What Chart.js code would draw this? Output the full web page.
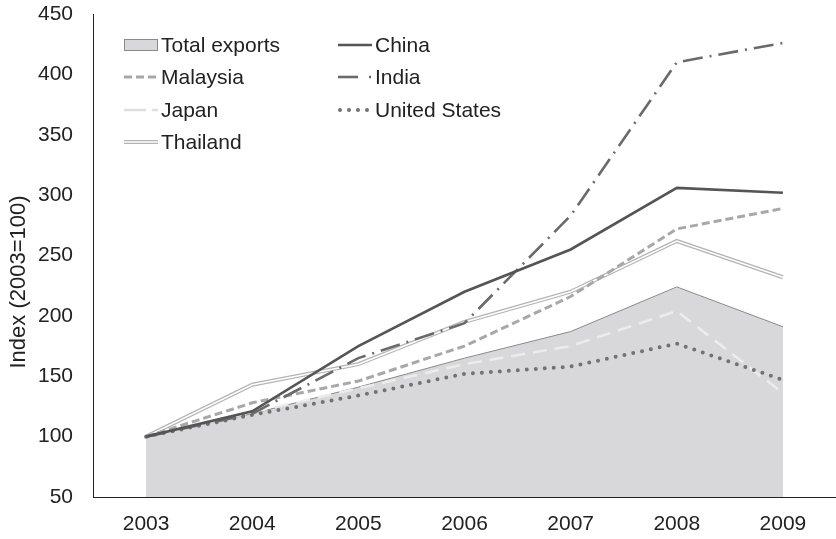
<!DOCTYPE html>
<html>
<head>
<meta charset="utf-8">
<script src="https://cdn.jsdelivr.net/npm/chart.js@4/dist/chart.umd.min.js"></script>
<style>
html,body{margin:0;padding:0;background:#fff;}
#wrap{width:836px;height:539px;position:relative;}
</style>
</head>
<body>
<div id="wrap"><canvas id="c" width="836" height="539"></canvas></div>
<script>
const years = ['2003','2004','2005','2006','2007','2008','2009'];
const totalExports = [100, 119, 141, 165, 187, 224, 191];
const china = [100, 121, 175, 220, 255, 306, 302];
const malaysia = [100, 128, 146, 175, 216, 272, 289];
const india = [100, 119, 165, 194, 283, 410, 426];
const japan = [100, 120, 140, 160, 175, 204, 136];
const unitedStates = [100, 118, 134, 152, 158, 177, 147];
const thailand = [100, 143, 160, 195, 220, 262, 232];
const yTicks = [50, 100, 150, 200, 250, 300, 350, 400, 450];
const yTitle = 'Index (2003=100)';

const FONT = "'Liberation Sans', Arial, sans-serif";

const datasets = [
  {label:'Total exports', data: totalExports, fill:'start', backgroundColor:'#d8d8da', borderColor:'#8a8a8a', borderWidth:1, order:100, legend:{col:0,row:0,type:'box'}},
  {label:'Japan', data: japan, borderColor:'#ececec', borderWidth:2.5, borderDash:[14,8], fill:false, order:7, legend:{col:0,row:2}},
  {label:'Thailand', data: thailand, borderColor:'#b4b4b4', borderWidth:4, fill:false, order:6, legend:{col:0,row:3,type:'double'}},
  {label:'_thai_inner', data: thailand, borderColor:'#ffffff', borderWidth:1.6, fill:false, order:5},
  {label:'Malaysia', data: malaysia, borderColor:'#a8a8a8', borderWidth:3, borderDash:[8,4], fill:false, order:4, legend:{col:0,row:1}},
  {label:'United States', data: unitedStates, borderColor:'#727272', borderWidth:4, borderDash:[0,9], borderCapStyle:'round', fill:false, order:3, legend:{col:1,row:2}},
  {label:'India', data: india, borderColor:'#6a6a6a', borderWidth:2.6, borderDash:[20,7,2,7], fill:false, order:2, legend:{col:1,row:1,type:'dashdot'}},
  {label:'China', data: china, borderColor:'#555555', borderWidth:2.6, fill:false, order:1, legend:{col:1,row:0}}
];

const legendPlugin = {
  id:'customLegend',
  afterDraw(chart){
    const ctx = chart.ctx;
    const ca = chart.chartArea;
    const colX = [ca.left + 31, ca.left + 245];
    const rowY = [ca.top + 31, ca.top + 63, ca.top + 96, ca.top + 128];
    const symW = 34;
    ctx.save();
    chart.data.datasets.forEach(ds => {
      if(!ds.legend) return;
      const x = colX[ds.legend.col], y = rowY[ds.legend.row];
      const t = ds.legend.type;
      if(t === 'box'){
        ctx.fillStyle = ds.backgroundColor;
        ctx.fillRect(x, y-6, symW, 12);
        ctx.strokeStyle = '#8a8a8a';
        ctx.lineWidth = 1;
        ctx.strokeRect(x+0.5, y-5.5, symW-1, 11);
      } else if(t === 'double'){
        ctx.strokeStyle = ds.borderColor; ctx.lineWidth = 4; ctx.setLineDash([]);
        ctx.beginPath(); ctx.moveTo(x, y); ctx.lineTo(x+symW, y); ctx.stroke();
        ctx.strokeStyle = '#fff'; ctx.lineWidth = 1.6;
        ctx.beginPath(); ctx.moveTo(x, y); ctx.lineTo(x+symW, y); ctx.stroke();
      } else if(t === 'dashdot'){
        ctx.strokeStyle = ds.borderColor; ctx.lineWidth = ds.borderWidth; ctx.setLineDash([]);
        ctx.beginPath(); ctx.moveTo(x, y); ctx.lineTo(x+20, y); ctx.stroke();
        ctx.beginPath(); ctx.moveTo(x+31, y); ctx.lineTo(x+33, y); ctx.stroke();
      } else {
        ctx.strokeStyle = ds.label==='Japan' ? '#dedede' : ds.borderColor;
        ctx.lineWidth = ds.borderWidth;
        ctx.lineCap = ds.borderCapStyle || 'butt';
        ctx.setLineDash(ds.label==='Japan' ? [22,6] : (ds.borderDash || []));
        ctx.beginPath(); ctx.moveTo(x + (ds.borderCapStyle==='round'?2:0), y); ctx.lineTo(x+symW, y); ctx.stroke();
        ctx.lineCap = 'butt';
      }
      ctx.setLineDash([]);
      ctx.fillStyle = '#222';
      ctx.font = '21px ' + FONT;
      ctx.textBaseline = 'middle';
      ctx.textAlign = 'left';
      ctx.fillText(ds.label, x + symW + 3, y + 1);
    });
    // y-axis title
    ctx.save();
    ctx.translate(19, 282);
    ctx.rotate(-Math.PI/2);
    ctx.font = '22px ' + FONT;
    ctx.fillStyle = '#222';
    ctx.textAlign = 'center';
    ctx.textBaseline = 'middle';
    ctx.fillText(yTitle, 0, 0);
    ctx.restore();
    ctx.restore();
  }
};

new Chart(document.getElementById('c'), {
  type:'line',
  data:{labels: years, datasets: datasets},
  options:{
    responsive:false,
    animation:false,
    layout:{padding:{top:0, right:0, left:0, bottom:0}},
    elements:{line:{tension:0}, point:{radius:0, hoverRadius:0}},
    plugins:{legend:{display:false}, tooltip:{enabled:false}},
    scales:{
      x:{
        offset:true,
        grid:{display:false, drawTicks:false},
        border:{display:true, color:'#222', width:1},
        ticks:{color:'#222', font:{family:FONT, size:21}, padding:15, maxRotation:0},
        afterFit(s){ s.height = 42; }
      },
      y:{
        min:50, max:450,
        afterBuildTicks(s){ s.ticks = yTicks.map(v=>({value:v})); },
        grid:{display:false, drawTicks:false},
        border:{display:true, color:'#222', width:1},
        ticks:{color:'#222', font:{family:FONT, size:21}, padding:20},
        afterFit(s){ s.width = 93; s.paddingTop = 14; s.paddingBottom = 0; }
      }
    }
  },
  plugins:[legendPlugin]
});
</script>
</body>
</html>
